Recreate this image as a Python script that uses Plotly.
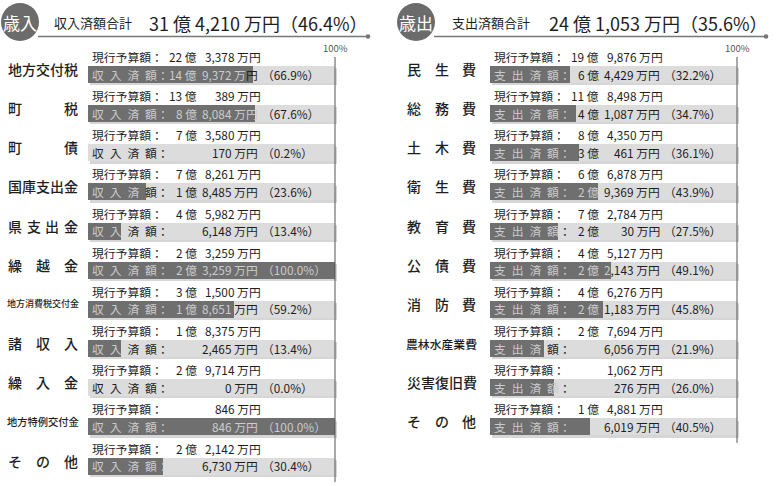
import plotly.graph_objects as go

W, H = 777, 486
FONT = "Noto Sans CJK JP"

# ---------------- data (万円) ----------------
rev_cats = ["地方交付税", "町税", "町債", "国庫支出金", "県支出金", "繰越金",
            "地方消費税交付金", "諸収入", "繰入金", "地方特例交付金", "その他"]
rev_budget = [223378, 130389, 73580, 78261, 45982, 23259, 31500, 18375, 29714, 846, 22142]
rev_actual = [149372, 88084, 170, 18485, 6148, 23259, 18651, 2465, 0, 846, 6730]
rev_pct = [66.9, 67.6, 0.2, 23.6, 13.4, 100.0, 59.2, 13.4, 0.0, 100.0, 30.4]

exp_cats = ["民生費", "総務費", "土木費", "衛生費", "教育費", "公債費", "消防費",
            "農林水産業費", "災害復旧費", "その他"]
exp_budget = [199876, 118498, 84350, 66878, 72784, 45127, 46276, 27694, 1062, 14881]
exp_actual = [64429, 41087, 30461, 29369, 20030, 22143, 21183, 6056, 276, 6019]
exp_pct = [32.2, 34.7, 36.1, 43.9, 27.5, 49.1, 45.8, 21.9, 26.0, 40.5]

rev_badge, exp_badge = "歳入", "歳出"
rev_total_label, exp_total_label = "収入済額合計", "支出済額合計"
budget_label = "現行予算額："
rev_line2_label = "収\u2002入\u2002済\u2002額："
exp_line2_label = "支\u2002出\u2002済\u2002額："
full_label = "100%"

# ---------------- style / layout constants ----------------
ROW0, PITCH = 74.5, 39.15
PX_PER_PCT = 2.47
XMAX = 104
BW = 17 / PITCH
DARK_TXT = "#1e1e1e"
LIGHT_TXT = "#cccccc"
DARK_BAR = "#6f6f6f"
LIGHT_BAR = "#dcdcdc"
FS = 11.8


def px(x):
    return x / W


def py(y):
    return 1 - y / H


def cw(ch, fs):
    o = ord(ch)
    if ch == "\u2002":
        return 0.5 * fs
    if ch == " ":
        return 0.224 * fs
    if ch in ",.":
        return 0.25 * fs
    if ch == "%":
        return 0.82 * fs
    if ch.isdigit():
        return 0.555 * fs
    if o >= 0x2E80:
        return fs
    return 0.55 * fs


def colored(text, start, fs, boundary, right=False):
    widths = [cw(c, fs) for c in text]
    total = sum(widths)
    x = start - total if right else start
    parts = []
    cur, buf = None, ""
    for ch, w in zip(text, widths):
        col = LIGHT_TXT if (x + w / 2) < boundary else DARK_TXT
        if col != cur and buf:
            parts.append(f'<span style="color:{cur}">{buf}</span>')
            buf = ""
        cur = col
        buf += ch
        x += w
    if buf:
        parts.append(f'<span style="color:{cur}">{buf}</span>')
    return "".join(parts)


def fmt_parts(v):
    oku, man = divmod(v, 10000)
    return (f"{oku} 億" if oku else None), f"{man:,} 万円"


fig = go.Figure()
annotations = []
shapes = []

panels = [
    dict(cats=rev_cats, budget=rev_budget, actual=rev_actual, pct=rev_pct,
         x0=88, xa="x", lab=(8, 78), line2=rev_line2_label,
         badge=rev_badge, badge_c=(20, 22), tlabel=rev_total_label,
         tl_x=52, tn_x=147, hl=(38, 368)),
    dict(cats=exp_cats, budget=exp_budget, actual=exp_actual, pct=exp_pct,
         x0=490, xa="x2", lab=(407, 476), line2=exp_line2_label,
         badge=exp_badge, badge_c=(416, 22), tlabel=exp_total_label,
         tl_x=450, tn_x=547, hl=(434, 766)),
]

for p in panels:
    n = len(p["cats"])
    ys = list(range(n))
    xa = p["xa"]
    common = dict(y=ys, orientation="h", xaxis=xa, yaxis="y", width=BW,
                  hoverinfo="skip", showlegend=False)
    fig.add_trace(go.Bar(x=[100] * n, base=1.0, offset=-BW / 2 + 2.2 / PITCH,
                         marker=dict(color="rgba(0,0,0,0.16)", line=dict(width=0)), **common))
    fig.add_trace(go.Bar(x=[100] * n, base=0, offset=-BW / 2,
                         marker=dict(color=LIGHT_BAR, line=dict(width=0)), **common))
    fig.add_trace(go.Bar(x=p["pct"], base=0, offset=-BW / 2,
                         marker=dict(color=DARK_BAR, line=dict(width=0)), **common))

    # 100% line and label
    shapes.append(dict(type="line", xref=xa, yref="y", x0=100, x1=100,
                       y0=-0.447, y1=n - 1 + 0.41, line=dict(color="#555", width=1)))
    annotations.append(dict(xref=xa, yref="y", x=100, y=-0.447, text=full_label,
                            showarrow=False, xanchor="center", yanchor="bottom",
                            font=dict(family=FONT, size=9.5, color="#555")))

    # category labels
    l0, l1 = p["lab"]
    for i, cat in enumerate(p["cats"]):
        m = len(cat)
        fs = 14
        if m * fs >= (l1 - l0) - 1:
            fs2 = min(14, (l1 - l0 + 2) / m)
            annotations.append(dict(xref="paper", yref="y", x=px((l0 + l1) / 2), y=i,
                                    yshift=5.5, text=cat, showarrow=False,
                                    xanchor="center", yanchor="middle",
                                    font=dict(family=FONT, size=fs2, color=DARK_TXT,
                                              weight=500)))
        else:
            c0, c1 = l0 + fs / 2, l1 - fs / 2
            for k, ch in enumerate(cat):
                cx = c0 + (c1 - c0) * k / (m - 1)
                annotations.append(dict(xref="paper", yref="y", x=px(cx), y=i,
                                        yshift=5.5, text=ch, showarrow=False,
                                        xanchor="center", yanchor="middle",
                                        font=dict(family=FONT, size=fs, color=DARK_TXT,
                                                  weight=500)))

    # row texts
    for i in range(n):
        bnd = p["pct"][i] * PX_PER_PCT
        base = dict(xref=xa, yref="y", x=0, y=i, showarrow=False, yanchor="middle",
                    font=dict(family=FONT, size=FS, color=DARK_TXT))
        # line 1 : budget
        oku, man = fmt_parts(p["budget"][i])
        annotations.append(dict(base, text=budget_label, xanchor="left", xshift=2, yshift=18))
        if oku:
            annotations.append(dict(base, text=oku, xanchor="right", xshift=111, yshift=18))
        annotations.append(dict(base, text=man, xanchor="right", xshift=175, yshift=18))
        # line 2 : actual
        oku, man = fmt_parts(p["actual"][i])
        annotations.append(dict(base, text=colored(p["line2"], 2, FS, bnd),
                                xanchor="left", xshift=2, yshift=0.5))
        if oku:
            annotations.append(dict(base, text=colored(oku, 111, FS, bnd, right=True),
                                    xanchor="right", xshift=111, yshift=0.5))
        annotations.append(dict(base, text=colored(man, 172, FS, bnd, right=True),
                                xanchor="right", xshift=172, yshift=0.5))
        pct_txt = f"（{p['pct'][i]:.1f}%）"
        annotations.append(dict(base, text=colored(pct_txt, 172, FS, bnd),
                                xanchor="left", xshift=172, yshift=0.5))

    # header
    cx, cy = p["badge_c"]
    r = 19
    shapes.append(dict(type="line", xref="paper", yref="paper",
                       x0=px(p["hl"][0]), x1=px(p["hl"][1]), y0=py(36.5), y1=py(36.5),
                       line=dict(color="#777", width=1.3)))
    shapes.append(dict(type="circle", xref="paper", yref="paper",
                       x0=px(p["hl"][1] - 2.3), x1=px(p["hl"][1] + 2.3),
                       y0=py(36.5 + 2.3), y1=py(36.5 - 2.3),
                       fillcolor="#777", line=dict(width=0)))
    shapes.append(dict(type="circle", xref="paper", yref="paper",
                       x0=px(cx - r), x1=px(cx + r), y0=py(cy + r), y1=py(cy - r),
                       fillcolor="#6b6b6b", line=dict(width=0)))
    annotations.append(dict(xref="paper", yref="paper", x=px(cx), y=py(cy),
                            text=p["badge"], showarrow=False, xanchor="center",
                            yanchor="middle", font=dict(family=FONT, size=17, color="white")))
    tot_a = sum(p["actual"])
    tot_b = sum(p["budget"])
    t_oku, t_man = divmod(tot_a, 10000)
    t_pct = round(tot_a / tot_b * 100, 1)
    annotations.append(dict(xref="paper", yref="paper", x=px(p["tl_x"]), y=py(23),
                            text=p["tlabel"], showarrow=False, xanchor="left",
                            yanchor="middle", font=dict(family=FONT, size=13, color=DARK_TXT)))
    annotations.append(dict(xref="paper", yref="paper", x=px(p["tn_x"]), y=py(23),
                            text=f"{t_oku} 億 {t_man:,} 万円（{t_pct:.1f}%）",
                            showarrow=False, xanchor="left", yanchor="middle",
                            font=dict(family=FONT, size=18, color=DARK_TXT)))

y_top = -ROW0 / PITCH
y_bot = (H - ROW0) / PITCH
axis_off = dict(showgrid=False, zeroline=False, showticklabels=False, ticks="",
                showline=False, fixedrange=True)
fig.update_layout(
    width=W, height=H, autosize=False,
    margin=dict(l=0, r=0, t=0, b=0, pad=0),
    paper_bgcolor="white", plot_bgcolor="rgba(0,0,0,0)",
    barmode="overlay", bargap=0, hovermode=False,
    xaxis=dict(domain=[px(88), px(88 + PX_PER_PCT * XMAX)], range=[0, XMAX],
               anchor="y", **axis_off),
    xaxis2=dict(domain=[px(490), px(490 + PX_PER_PCT * XMAX)], range=[0, XMAX],
                anchor="y", **axis_off),
    yaxis=dict(domain=[0, 1], range=[y_bot, y_top], anchor="x", **axis_off),
    annotations=annotations, shapes=shapes,
    font=dict(family=FONT),
)

fig.write_html("out.html",
               config={"displayModeBar": False, "staticPlot": True},
               post_script="document.body.style.margin='0';document.body.style.overflow='hidden';")
